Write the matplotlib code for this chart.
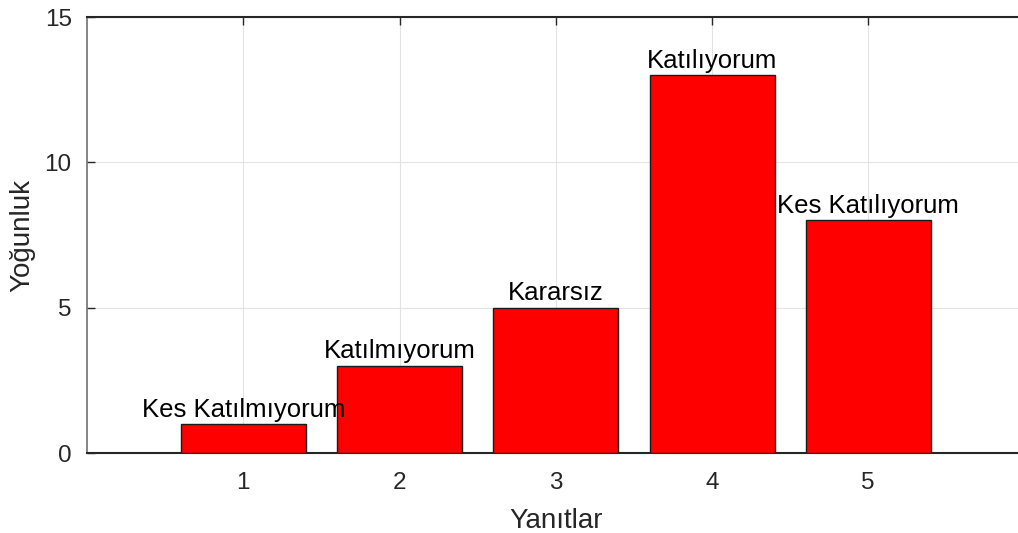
import matplotlib
matplotlib.use('Agg')
import matplotlib.pyplot as plt

plt.rcParams['font.family'] = ['Liberation Sans', 'DejaVu Sans']

responses = [1, 2, 3, 4, 5]
counts = [1, 3, 5, 13, 8]
labels = ['Kes Katılmıyorum', 'Katılmıyorum', 'Kararsız', 'Katılıyorum', 'Kes Katılıyorum']

fig = plt.figure(figsize=(10.18, 5.33), dpi=100)
ax = fig.add_axes([87/1018, 80/533, 937.5/1018, 436/533])

ax.bar(responses, counts, width=0.8, color='#ff0000', edgecolor='#1a1a1a', linewidth=1.0, zorder=3)
for x, y, t in zip(responses, counts, labels):
    ax.text(x, y + 0.08, t, ha='center', va='bottom', fontsize=18.5, color='black', zorder=4)

ax.set_xlim(0, 6)
ax.set_ylim(0, 15)
ax.set_xticks(responses)
ax.set_yticks([0, 5, 10, 15])
ax.grid(True, color='#e3e3e3', linewidth=0.8, zorder=0)
ax.set_axisbelow(True)

ax.tick_params(direction='in', length=6, width=1, colors='#262626', labelsize=17.5,
               top=True, right=False)
ax.tick_params(axis='x', pad=14)
ax.tick_params(axis='y', pad=11)

for s in ['top', 'bottom']:
    ax.spines[s].set_color('#262626')
    ax.spines[s].set_linewidth(1.5)
ax.spines['left'].set_color('#707070')
ax.spines['left'].set_linewidth(1.2)
ax.spines['right'].set_visible(False)

ax.set_xlabel('Yanıtlar', fontsize=20, color='#262626', labelpad=10)
ax.set_ylabel('Yoğunluk', fontsize=20, color='#262626', labelpad=7)

fig.savefig('out.png', dpi=100, facecolor='white')
